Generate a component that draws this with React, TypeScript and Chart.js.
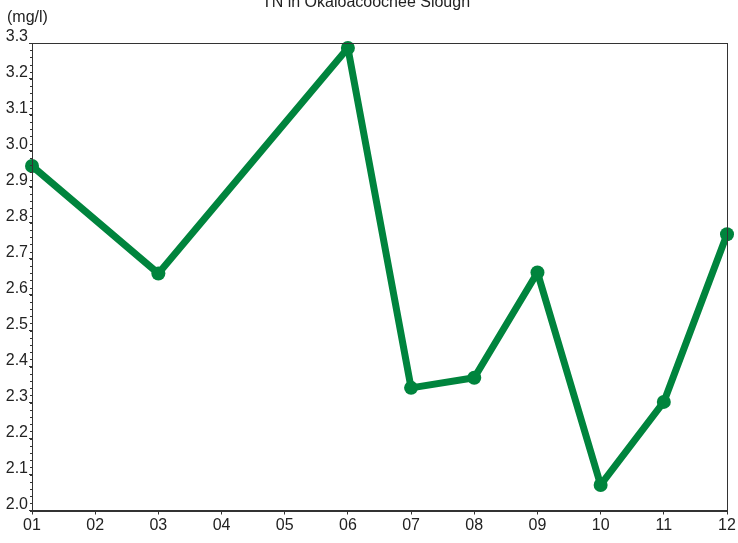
import React, { useEffect, useRef } from "react";
import { Chart, registerables } from "chart.js";

Chart.register(...registerables);

const months = [1, 3, 6, 7, 8, 9, 10, 11, 12];
const tnValues = [2.958, 2.659, 3.286, 2.341, 2.369, 2.662, 2.071, 2.302, 2.768];
const xTickLabels = ["01", "02", "03", "04", "05", "06", "07", "08", "09", "10", "11", "12"];
const titleText = "TN in Okaloacoochee Slough";
const unitText = "(mg/l)";

const GREEN = "#00843d";
const INK = "#222222";
const FONT = "'Liberation Sans', Arial, sans-serif";

const framePlugin = {
  id: "frame",
  afterDraw(chart: any) {
    const { ctx, chartArea } = chart;
    const y = chart.scales.y;
    ctx.save();
    ctx.strokeStyle = "#333";
    ctx.lineWidth = 1;
    ctx.strokeRect(
      Math.round(chartArea.left) + 0.5,
      Math.round(chartArea.top) + 0.5,
      Math.round(chartArea.right - chartArea.left),
      Math.round(chartArea.bottom - chartArea.top)
    );
    ctx.beginPath();
    for (let i = 0; i <= 65; i++) {
      const v = 2.0 + i * 0.02;
      const py = Math.round(y.getPixelForValue(v)) + 0.5;
      ctx.moveTo(Math.round(chartArea.left) - 2, py);
      ctx.lineTo(Math.round(chartArea.left), py);
    }
    ctx.stroke();
    ctx.fillStyle = INK;
    ctx.font = `16px ${FONT}`;
    ctx.textAlign = "center";
    ctx.textBaseline = "alphabetic";
    ctx.fillText(titleText, 366, 7);
    ctx.font = `16px ${FONT}`;
    ctx.textAlign = "left";
    ctx.fillText(unitText, 7, 22);
    ctx.restore();
  },
};

export default function App() {
  const ref = useRef<HTMLCanvasElement | null>(null);
  useEffect(() => {
    document.body.style.margin = "0";
    const canvas = ref.current!;
    const chart = new Chart(canvas, {
      type: "line",
      data: {
        datasets: [
          {
            data: months.map((m, i) => ({ x: m, y: tnValues[i] })),
            borderColor: GREEN,
            backgroundColor: GREEN,
            borderWidth: 7,
            borderJoinStyle: "round",
            borderCapStyle: "round",
            pointRadius: 7,
            pointBorderWidth: 0,
            pointBackgroundColor: GREEN,
            tension: 0,
            clip: false as any,
          },
        ],
      },
      options: {
        animation: false,
        responsive: false,
        layout: { padding: { top: 43, right: 11, left: 0, bottom: 0 } },
        plugins: { legend: { display: false }, title: { display: false }, tooltip: { enabled: false } },
        scales: {
          x: {
            type: "linear",
            min: 1,
            max: 12,
            afterFit: (s: any) => { s.height = 32.5; },
            ticks: {
              stepSize: 1,
              autoSkip: false,
              maxRotation: 0,
              padding: 1,
              color: INK,
              font: { family: FONT, size: 16 },
              callback: (v: any) => xTickLabels[Math.round(v) - 1] ?? "",
            },
            grid: { drawOnChartArea: false, tickLength: 4, color: "#333" },
            border: { color: "#333" },
          },
          y: {
            min: 2.0,
            max: 3.3,
            afterFit: (s: any) => { s.width = 32; },
            ticks: {
              stepSize: 0.1,
              autoSkip: false,
              padding: 1,
              labelOffset: -6,
              color: INK,
              font: { family: FONT, size: 16 },
              callback: (v: any) => Number(v).toFixed(1),
            },
            grid: { drawOnChartArea: false, tickLength: 3, color: "#333" },
            border: { color: "#333" },
          },
        },
      },
      plugins: [framePlugin],
    });
    return () => chart.destroy();
  }, []);
  return <canvas ref={ref} width={738} height={543} style={{ display: "block" }} />;
}
